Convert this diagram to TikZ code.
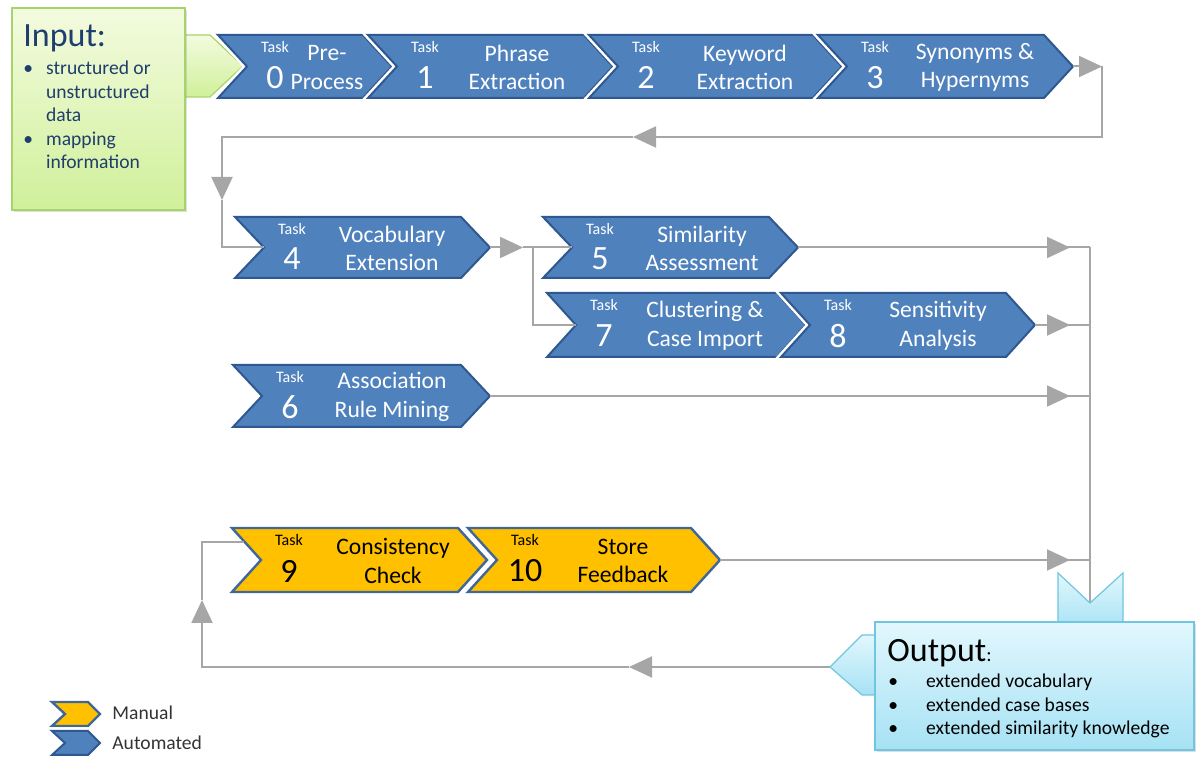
\documentclass[tikz,border=0pt]{standalone}
\usepackage{fontspec}
\setmainfont{Carlito}
\usetikzlibrary{arrows.meta, shadows}
\definecolor{autoblue}{HTML}{4F81BD}
\definecolor{autoline}{HTML}{2F5890}
\definecolor{manyellow}{HTML}{FFC000}
\definecolor{manline}{HTML}{3F6797}
\definecolor{flowgray}{HTML}{A6A6A6}
\definecolor{inlight}{HTML}{F3FBDF}
\definecolor{indark}{HTML}{D0F09A}
\definecolor{inline}{HTML}{A8D26A}
\definecolor{intext}{HTML}{1F3E6D}
\definecolor{outlight}{HTML}{E2F7FD}
\definecolor{outdark}{HTML}{A6E2F4}
\definecolor{outline}{HTML}{6FC6DE}
\tikzset{fhead/.tip={Triangle[length=11.5pt,width=10.5pt]}}
\tikzset{
  autochev/.style={fill=autoblue, draw=autoline, line width=1pt,
    preaction={draw=white, line width=3.5pt}},
  manchev/.style={fill=manyellow, draw=manline, line width=1.2pt,
    preaction={draw=white, line width=3.5pt}},
  autotext/.style={text=white},
  mantext/.style={text=black},
  tasktag/.style={font=\fontsize{8}{9}\selectfont, inner sep=0pt},
  tasknum/.style={font=\fontsize{17}{18}\selectfont, inner sep=0pt},
  tasktitle/.style={font=\fontsize{11.8}{14.3}\selectfont, align=center, inner sep=0pt},
  conn/.style={draw=flowgray, line width=1pt},
  inbox/.style={top color=inlight, bottom color=indark, draw=inline, line width=0.6pt},
  outbox/.style={top color=outlight, bottom color=outdark, draw=outline, line width=0.6pt},
  boxshadow/.style={drop shadow={opacity=0.25, shadow xshift=1.2pt, shadow yshift=-1.2pt}},
  legendtext/.style={font=\fontsize{9.8}{11}\selectfont, text=black!80, inner sep=0pt, anchor=base west},
}
% #1 name, #2 auto/man, #3 left, #4 tip, #5 top, #6 bottom, #7 number, #8 title, #9 title x
\newcommand{\taskchev}[9]{%
  \path[#2chev] (#3,#5) -- ({#4-29},#5) -- (#4,{(#5+#6)/2}) -- ({#4-29},#6)
    -- (#3,#6) -- ({#3+29},{(#5+#6)/2}) -- cycle;
  \coordinate (#1-in) at ({#3+29},{(#5+#6)/2});
  \coordinate (#1-out) at (#4,{(#5+#6)/2});
  \node[tasktag, #2text] (#1-tag) at ({#3+57},{#5+12}) {Task};
  \node[tasknum, #2text] (#1-num) at ({#3+57},{(#5+#6)/2+11}) {#7};
  \node[tasktitle, #2text] (#1) at (#9,{(#5+#6)/2+1}) {#8};
}

\begin{document}
\begin{tikzpicture}[line join=miter, x=0.5pt, y=-0.5pt]
\useasboundingbox (0,0) rectangle (1196,758);

% input
\path[inbox] (180,35) -- (210,35) -- (243,66) -- (210,97) -- (180,97) -- cycle;
\path[inbox, boxshadow] (12,8) rectangle (185,210);
\node[font=\fontsize{17}{20}\selectfont, text=intext, inner sep=0pt, anchor=base west]
  (in-title) at (23,47) {Input:};
\node[font=\fontsize{9.8}{11.75}\selectfont, text=intext, inner sep=0pt, anchor=base west]
  (in-list) at (23,75) {\begin{tabular}[t]{@{}l@{\hspace{6.5pt}}l@{}}
  \textbullet & structured or\\ & unstructured\\ & data\\
  \textbullet & mapping\\ & information\end{tabular}};

% tasks
\taskchev{t0}{auto}{218}{392}{35}{98}{0}{Pre-\\Process}{327}
\taskchev{t1}{auto}{368}{613}{35}{98}{1}{Phrase\\Extraction}{517}
\taskchev{t2}{auto}{589}{842}{35}{98}{2}{Keyword\\Extraction}{745}
\taskchev{t3}{auto}{818}{1073}{35}{98}{3}{Synonyms \&\\Hypernyms}{975}
\taskchev{t4}{auto}{235}{490}{217}{278}{4}{Vocabulary\\Extension}{392}
\taskchev{t5}{auto}{543}{798}{217}{278}{5}{Similarity\\Assessment}{702}
\taskchev{t7}{auto}{547}{806}{293}{357}{7}{Clustering \&\\Case Import}{705}
\taskchev{t8}{auto}{781}{1035}{293}{357}{8}{Sensitivity\\Analysis}{938}
\taskchev{t6}{auto}{233}{490}{365}{427}{6}{Association\\Rule Mining}{392}
\taskchev{t9}{man}{232}{487}{528}{592}{9}{Consistency\\Check}{393}
\taskchev{t10}{man}{468}{720}{528}{592}{10}{Store\\Feedback}{623}

% flow
\coordinate (c1) at (1102,66.5);
\coordinate (c2) at (633,137);
\coordinate (c3) at (222,200);
\draw[conn,-fhead] (t3-out) -- (c1);
\draw[conn,-fhead] (c1) |- (c2);
\draw[conn,-fhead] (c2) -| (c3);
\draw[conn] (c3) |- (t4-in);

\coordinate (j1) at (523,247.5);
\coordinate (j2) at (533,247.5);
\draw[conn,-fhead] (t4-out) -- (j1);
\draw[conn] (j1) -- (t5-in);
\draw[conn] (j2) |- (t7-in);

\coordinate (bus) at (1090,247.5);
\coordinate (o-notch) at (1090,603);
\draw[conn] (bus) -- (o-notch);
\draw[conn] (t5-out) -- (t5-out -| bus);
\draw[conn,-fhead] (t5-out) -- ([xshift=-10pt]t5-out -| bus);
\draw[conn] (t8-out) -- (t8-out -| bus);
\draw[conn,-fhead] (t8-out) -- ([xshift=-10pt]t8-out -| bus);
\draw[conn] (t6-out) -- (t6-out -| bus);
\draw[conn,-fhead] (t6-out) -- ([xshift=-10pt]t6-out -| bus);
\draw[conn] (t10-out) -- (t10-out -| bus);
\draw[conn,-fhead] (t10-out) -- ([xshift=-10pt]t10-out -| bus);

\coordinate (o-tip) at (830,667);
\coordinate (r1) at (629,667);
\coordinate (r2) at (202,600);
\coordinate (t9-edge) at (244,542);
\draw[conn,-fhead] (o-tip) -- (r1);
\draw[conn,-fhead] (r1) -| (r2);
\draw[conn] (r2) |- (t9-edge);

% output
\path[outbox] (1058,573) -- (1090,603) -- (1123,573) -- (1123,630) -- (1058,630) -- cycle;
\path[outbox] (880,635) -- (862,635) -- (830,667) -- (862,695) -- (880,695) -- cycle;
\path[outbox, boxshadow] (875,622) rectangle (1194,750);
\node[font=\fontsize{17}{20}\selectfont, inner sep=0pt, anchor=base west]
  (out-title) at (887,662) {Output{\fontsize{10}{12}\selectfont:}};
\node[font=\fontsize{9.8}{11.75}\selectfont, inner sep=0pt, anchor=base west]
  (out-list) at (888,688) {\begin{tabular}[t]{@{}l@{\hspace{14pt}}l@{}}
  \textbullet & extended vocabulary\\
  \textbullet & extended case bases\\
  \textbullet & extended similarity knowledge\end{tabular}};

% legend
\path[manchev] (52,702) -- (88,702) -- (100,714) -- (88,726) -- (52,726) -- (65,714) -- cycle;
\path[autochev] (52,731) -- (88,731) -- (100,743) -- (88,755) -- (52,755) -- (65,743) -- cycle;
\node[legendtext] (lg-man) at (112,720) {Manual};
\node[legendtext] (lg-auto) at (112,750) {Automated};

\end{tikzpicture}
\end{document}
